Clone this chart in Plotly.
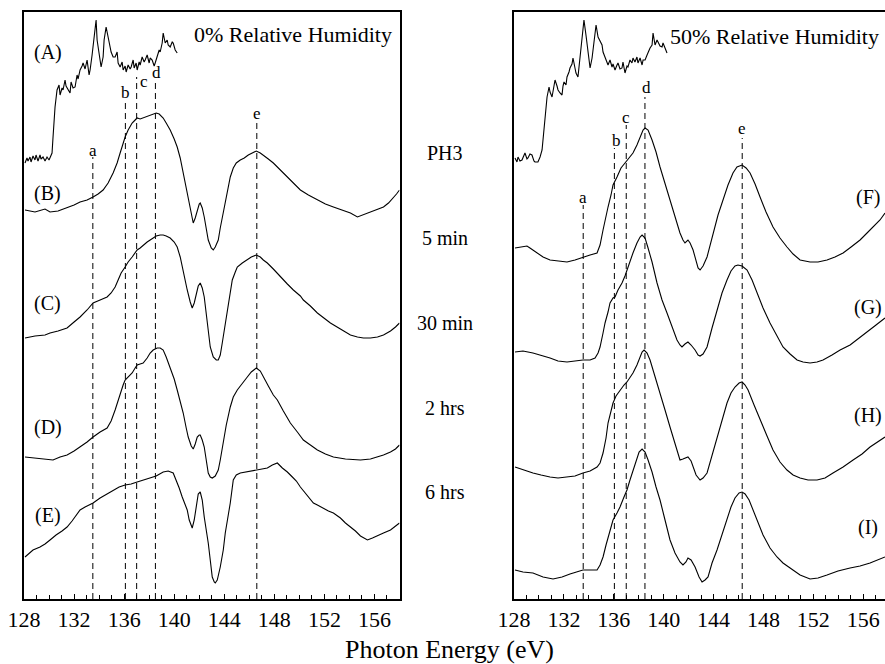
import plotly.graph_objects as go

# ---------------- data (photon energy in eV, intensity in arbitrary offset units) -------------
# Left panel: 0% relative humidity
A_left_eV = [128.08,128.24,128.32,128.48,128.56,128.72,128.88,128.96,129.12,129.28,129.36,129.52,129.68,129.84,130.00,130.08,130.24,130.32,130.48,130.64,130.80,130.88,131.04,131.12,131.28,131.36,131.52,131.68,131.76,131.92,132.08,132.24,132.32,132.48,132.64,132.72,132.88,133.04,133.20,133.28,133.44,133.60,133.76,133.84,134.00,134.16,134.32,134.40,134.56,134.72,134.88,134.96,135.12,135.28,135.44,135.52,135.68,135.84,135.92,136.08,136.16,136.32,136.48,136.56,136.72,136.80,136.96,137.04,137.20,137.28,137.44,137.60,137.68,137.84,138.00,138.08,138.24,138.40,138.48,138.64,138.80,138.88,139.04,139.12,139.28,139.44,139.52,139.68,139.84,139.92,140.08,140.24]
A_left_I = [436,441,438,442,437,443,439,444,438,444,440,442,438,442,439,441,446,462,492,509,514,504,511,509,519,513,509,506,517,511,512,524,520,529,533,536,530,539,524,529,544,559,579,559,544,532,542,559,572,562,552,547,542,542,547,536,532,537,529,533,527,534,530,532,539,531,536,529,537,534,542,537,539,544,536,541,539,533,536,544,549,547,556,566,556,559,554,552,557,556,549,546]

B_eV = [128.08,128.88,129.68,130.08,130.72,131.44,132.00,132.48,133.04,133.52,133.92,134.32,134.72,135.12,135.44,135.68,135.92,136.08,136.32,136.64,136.88,137.04,137.28,137.52,137.84,138.08,138.32,138.56,138.80,139.12,139.36,139.68,140.00,140.24,140.48,140.72,140.96,141.12,141.36,141.52,141.68,141.84,142.00,142.08,142.24,142.40,142.56,142.72,142.96,143.12,143.28,143.52,143.68,143.92,144.08,144.32,144.48,144.72,144.96,145.28,145.60,145.92,146.24,146.56,146.88,147.12,147.52,147.92,148.48,149.04,149.52,150.08,150.72,151.44,152.08,152.72,153.44,154.08,154.64,155.04,155.44,156.08,156.72,157.12,157.52,157.76,158.00]
B_I = [389,387,390,387,388,391,394,397,399,402,405,409,416,426,436,446,456,462,469,476,479,481,480,481,483,484,485,486,485,481,476,469,460,452,441,426,411,399,384,376,381,389,395,396,391,382,371,359,351,349,352,359,371,386,397,412,422,431,436,439,441,444,446,448,446,444,440,436,429,422,415,409,404,399,395,392,389,386,382,384,386,389,392,396,401,405,409]

C_eV = [128.08,128.88,129.68,130.08,130.72,131.44,132.00,132.48,133.04,133.52,134.08,134.64,134.96,135.28,135.52,135.76,136.08,136.32,136.64,136.88,137.04,137.28,137.52,137.84,138.08,138.32,138.56,138.88,139.12,139.36,139.68,140.00,140.24,140.48,140.64,140.88,141.04,141.28,141.44,141.60,141.76,141.92,142.08,142.24,142.40,142.56,142.72,142.88,143.12,143.36,143.52,143.68,143.84,144.00,144.24,144.48,144.64,144.88,145.04,145.44,145.84,146.16,146.56,146.88,147.12,147.44,147.92,148.48,149.04,149.52,150.08,150.32,150.88,151.44,151.92,152.48,153.28,154.08,154.64,155.12,155.68,156.24,156.72,157.28,157.68,158.00]
C_I = [261,263,264,266,268,271,277,282,289,296,299,302,306,312,319,326,332,337,342,346,349,351,354,357,359,361,363,364,364,363,361,357,352,342,332,319,309,297,291,296,306,313,316,311,302,286,266,252,242,239,239,244,256,269,289,307,319,327,332,336,339,342,344,342,339,336,330,322,315,309,303,299,293,286,281,276,270,264,262,261,261,262,264,268,272,276]

D_eV = [128.08,128.88,129.68,130.32,130.88,131.44,132.00,132.48,133.04,133.52,134.08,134.64,134.96,135.28,135.52,135.68,135.92,136.08,136.32,136.64,136.88,137.04,137.28,137.52,137.84,138.08,138.32,138.64,138.88,139.12,139.36,139.68,140.00,140.24,140.48,140.72,140.96,141.12,141.36,141.52,141.68,141.84,142.00,142.08,142.24,142.40,142.56,142.72,142.88,143.04,143.28,143.52,143.68,143.92,144.16,144.48,144.72,145.04,145.44,145.84,146.16,146.56,146.88,147.12,147.52,147.92,148.24,148.72,149.28,149.84,150.32,150.88,151.44,152.08,152.72,153.68,154.88,155.68,156.72,157.28,157.68,158.00]
D_I = [142,141,140,139,142,144,148,152,157,162,167,171,178,189,199,206,214,219,222,226,231,234,235,236,241,246,249,251,251,249,242,232,220,209,198,186,171,162,153,150,155,162,164,164,159,152,139,126,122,121,123,129,139,156,174,192,202,209,216,222,227,231,228,222,213,204,199,188,176,167,159,154,149,145,142,140,139,140,144,147,150,154]

E_eV = [128.08,128.40,128.72,129.28,129.68,130.08,130.56,131.04,131.44,131.84,132.16,132.48,132.88,133.20,133.52,134.08,134.64,135.12,135.60,136.08,136.56,137.04,137.52,138.08,138.56,139.12,139.52,139.92,140.16,140.40,140.64,140.88,141.04,141.20,141.36,141.44,141.60,141.76,141.92,142.08,142.24,142.40,142.56,142.72,142.88,143.04,143.20,143.28,143.44,143.68,143.92,144.08,144.32,144.48,144.72,144.96,145.28,145.68,146.08,146.64,147.04,147.44,147.84,148.24,148.64,149.04,149.44,149.76,150.08,150.48,150.88,151.12,151.44,151.84,152.32,152.72,153.28,153.68,154.08,154.48,154.88,155.44,155.84,156.32,156.72,157.28,157.68,158.00]
E_I = [42,46,49,52,55,59,64,68,72,78,84,89,92,94,96,101,105,109,112,114,115,117,119,121,123,127,128,126,119,111,102,94,89,79,72,71,79,94,105,107,99,82,71,56,39,22,17,16,19,32,49,66,84,96,119,124,126,127,128,129,130,131,134,136,131,127,122,118,112,106,100,96,94,91,88,86,81,76,72,68,63,59,61,64,66,69,73,76]

# Right panel: 50% relative humidity
A_right_eV = [128.08,128.24,128.32,128.48,128.64,128.80,128.88,129.04,129.12,129.28,129.44,129.60,129.68,129.92,130.09,130.25,130.33,130.49,130.65,130.81,130.89,131.05,131.13,131.29,131.45,131.53,131.69,131.85,131.93,132.01,132.17,132.25,132.41,132.49,132.65,132.73,132.89,132.97,133.13,133.29,133.37,133.53,133.61,133.77,133.85,134.02,134.10,134.26,134.34,134.50,134.58,134.74,134.90,135.06,135.14,135.30,135.46,135.54,135.70,135.86,135.94,136.10,136.26,136.34,136.50,136.66,136.74,136.90,137.06,137.14,137.30,137.46,137.54,137.70,137.86,137.94,138.11,138.27,138.35,138.51,138.67,138.75,138.91,139.07,139.15,139.31,139.47,139.55,139.71,139.87,139.95,140.11,140.27]
A_right_I = [441,437,442,438,439,444,446,440,441,445,444,438,437,437,442,449,459,479,502,512,507,502,509,519,513,509,506,504,513,517,514,522,527,531,535,541,531,526,522,539,552,569,579,564,556,539,531,541,549,567,574,562,557,554,547,542,537,534,539,532,535,529,534,536,530,531,537,526,533,532,539,536,541,537,542,536,541,534,539,539,544,547,551,554,566,554,559,557,553,552,556,551,546]

F_eV = [128.08,128.64,129.04,129.28,129.84,130.33,130.89,131.53,132.25,132.89,133.53,134.10,134.66,134.90,135.14,135.38,135.54,135.78,135.94,136.26,136.58,136.90,137.22,137.54,137.86,138.11,138.35,138.51,138.75,139.07,139.39,139.71,140.11,140.51,140.91,141.31,141.55,141.71,141.95,142.12,142.36,142.60,142.76,142.92,143.16,143.48,143.72,143.96,144.36,144.76,145.16,145.56,145.88,146.29,146.61,146.93,147.33,147.73,148.21,148.77,149.33,149.89,150.38,150.94,151.74,152.38,153.10,153.74,154.39,155.03,155.75,156.31,156.79,157.35,157.75]
F_I = [351,352,353,351,346,342,339,338,337,339,342,344,346,354,369,384,392,404,414,422,431,436,441,446,454,462,469,471,469,459,447,432,416,399,382,366,359,356,359,356,349,337,331,329,333,342,354,366,384,399,414,426,432,434,431,426,415,402,387,372,361,352,345,339,337,337,339,342,346,352,359,366,372,379,386]

G_eV = [128.08,128.72,129.52,130.09,130.89,131.53,132.25,132.89,133.53,134.10,134.50,134.74,134.90,135.14,135.30,135.54,135.70,135.94,136.10,136.34,136.66,136.90,137.06,137.30,137.54,137.86,138.11,138.27,138.51,138.75,139.07,139.47,139.87,140.27,140.67,141.07,141.31,141.47,141.71,141.95,142.20,142.52,142.76,142.92,143.16,143.48,143.88,144.28,144.68,145.08,145.40,145.72,145.96,146.29,146.69,147.09,147.49,147.97,148.53,149.09,149.57,150.14,150.70,151.18,151.74,152.30,152.78,153.50,154.15,154.95,155.75,156.39,157.03,157.75]
G_I = [247,248,246,244,241,238,237,238,239,239,241,246,252,266,276,287,296,301,302,309,316,323,329,337,346,356,362,364,361,351,337,316,299,286,272,259,254,252,255,257,254,249,244,243,245,252,271,289,306,319,328,333,334,333,329,319,306,291,276,263,252,245,239,237,236,237,239,244,249,254,262,268,274,281]

H_eV = [128.08,128.72,129.52,130.17,130.89,131.53,132.25,132.89,133.53,134.10,134.66,134.90,135.14,135.38,135.54,135.78,135.94,136.18,136.50,136.82,137.06,137.30,137.54,137.86,138.11,138.27,138.43,138.67,138.91,139.31,139.71,140.11,140.51,140.91,141.31,141.55,141.71,141.95,142.20,142.36,142.60,142.92,143.16,143.48,143.88,144.28,144.68,145.08,145.40,145.72,146.05,146.29,146.53,146.77,147.25,147.73,148.29,148.77,149.33,149.89,150.38,150.94,151.58,152.30,152.94,153.58,154.39,155.19,155.91,156.55,157.19,157.75]
H_I = [132,129,126,124,122,121,122,123,126,128,132,136,146,161,176,188,196,203,209,214,217,221,226,234,242,247,249,246,239,223,206,189,172,155,139,140,141,142,138,132,124,119,121,126,144,162,179,196,206,212,216,217,214,209,194,179,163,149,137,129,124,121,119,119,121,126,132,139,145,152,157,162]

I_eV = [128.08,128.72,129.52,130.33,131.13,131.85,132.49,133.05,133.53,134.10,134.66,134.90,135.14,135.38,135.54,135.78,135.94,136.26,136.50,136.82,137.06,137.30,137.54,137.78,138.03,138.27,138.51,138.75,139.07,139.39,139.71,140.11,140.51,140.91,141.31,141.55,141.79,141.95,142.20,142.52,142.84,143.08,143.32,143.56,143.88,144.28,144.68,145.08,145.40,145.72,146.05,146.29,146.53,146.85,147.17,147.49,147.97,148.53,149.09,149.57,150.14,150.94,151.74,152.38,153.10,153.98,154.95,155.75,156.55,157.19,157.75]
I_I = [29,27,26,22,20,22,25,27,29,29,29,34,42,54,62,72,79,86,92,102,109,119,129,139,147,150,147,139,127,112,99,79,59,46,37,34,37,41,39,32,22,17,19,22,36,49,64,79,92,101,106,107,105,99,89,77,64,51,42,36,31,24,20,21,24,28,31,33,36,39,42]

# feature markers a-e (eV) and top ends of their dashed guide lines
mark_names = ["a", "b", "c", "d", "e"]
left_marks_eV = [133.5, 136.1, 137.0, 138.5, 146.6]
left_mark_tops = [442, 499, 522, 517, 479]
right_marks_eV = [133.55, 136.05, 137.0, 138.5, 146.3]
right_mark_tops = [394, 451, 474, 502, 461]

left_names = ["(A)", "(B)", "(C)", "(D)", "(E)"]
right_names = ["(F)", "(G)", "(H)", "(I)"]
exposure_labels = ["PH3", "5 min", "30 min", "2 hrs", "6 hrs"]
tick_vals = [128, 132, 136, 140, 144, 148, 152, 156]

# ---------------- figure ----------------
SERIF = "Liberation Serif, Times New Roman, serif"
W, H = 885, 664
ML, MR, MT, MB = 24, 0, 12, 65
PW = W - ML - MR
PH = H - MT - MB

fig = go.Figure()
line_style = dict(color="black", width=1.1)

for xs, ys in [(A_left_eV, A_left_I), (B_eV, B_I), (C_eV, C_I), (D_eV, D_I), (E_eV, E_I)]:
    fig.add_trace(go.Scatter(x=xs, y=ys, mode="lines", line=line_style,
                             xaxis="x", yaxis="y", showlegend=False, hoverinfo="skip"))
for xs, ys in [(A_right_eV, A_right_I), (F_eV, F_I), (G_eV, G_I), (H_eV, H_I), (I_eV, I_I)]:
    fig.add_trace(go.Scatter(x=xs, y=ys, mode="lines", line=line_style,
                             xaxis="x2", yaxis="y2", showlegend=False, hoverinfo="skip"))

dash_style = dict(color="black", width=1, dash="6px,4px")
for pos, top in zip(left_marks_eV, left_mark_tops):
    fig.add_trace(go.Scatter(x=[pos, pos], y=[0, top], mode="lines", line=dash_style,
                             xaxis="x", yaxis="y", showlegend=False, hoverinfo="skip"))
for pos, top in zip(right_marks_eV, right_mark_tops):
    fig.add_trace(go.Scatter(x=[pos, pos], y=[0, top], mode="lines", line=dash_style,
                             xaxis="x2", yaxis="y2", showlegend=False, hoverinfo="skip"))

ann = []
def txt(text, x, y, xref, yref, size, xanchor="center", yanchor="middle"):
    ann.append(dict(text=text, x=x, y=y, xref=xref, yref=yref, showarrow=False,
                    font=dict(family=SERIF, size=size, color="black"),
                    xanchor=xanchor, yanchor=yanchor))

# marker letters
left_letter_pos = [(133.5, 449), (136.1, 507), (137.55, 518), (138.6, 527), (146.6, 486)]
right_letter_pos = [(133.53, 402), (136.18, 459), (136.98, 482), (138.59, 512), (146.29, 471)]
for n, (x, y) in zip(mark_names, left_letter_pos):
    txt(n, x, y, "x", "y", 17)
for n, (x, y) in zip(mark_names, right_letter_pos):
    txt(n, x, y, "x2", "y2", 17)

# spectrum labels
for n, y in zip(left_names, [547, 406, 296, 172, 84]):
    txt(n, 129.9, y, "x", "y", 20)
for n, y in zip(right_names, [402, 292, 184, 72]):
    txt(n, 156.4, y, "x2", "y2", 20)

# exposure labels between panels
for n, y in zip(exposure_labels, [446, 361, 276, 191, 107]):
    txt(n, (445 - ML) / PW, y / PH, "paper", "paper", 20)

txt("0% Relative Humidity", 157.6, 565, "x", "y", 22, xanchor="right")
txt("50% Relative Humidity", 157.4, 563, "x2", "y2", 22, xanchor="right")
txt("Photon Energy (eV)", (449 - ML) / PW, -50 / PH, "paper", "paper", 26)

axis_common = dict(showgrid=False, zeroline=False, showline=True, linecolor="black", linewidth=1.8,
                   ticks="inside", ticklen=5, tickwidth=1.2, tickcolor="black",
                   tickvals=tick_vals, tickfont=dict(family=SERIF, size=22, color="black"),
                   minor=dict(dtick=1, ticks="inside", ticklen=4, tickwidth=1, tickcolor="black"),
                   mirror=True)
yaxis_common = dict(showgrid=False, zeroline=False, showline=True, linecolor="black", linewidth=1.8,
                    showticklabels=False, ticks="", range=[0, PH])

fig.update_layout(
    width=W, height=H,
    margin=dict(l=ML, r=MR, t=MT, b=MB),
    paper_bgcolor="white", plot_bgcolor="white",
    xaxis=dict(domain=[0, (399.5 - ML) / PW], range=[128, 158], anchor="y", **axis_common),
    yaxis=dict(domain=[0, 1], anchor="x", mirror=True, **yaxis_common),
    xaxis2=dict(domain=[(514 - ML) / PW, 1], range=[128, 157.75], anchor="y2", **axis_common),
    yaxis2=dict(domain=[0, 1], anchor="x2", mirror=False, **yaxis_common),
    annotations=ann,
)

fig.write_html("out.html", config={"displayModeBar": False},
               post_script="document.body.style.margin='0';document.body.style.overflow='hidden';")
